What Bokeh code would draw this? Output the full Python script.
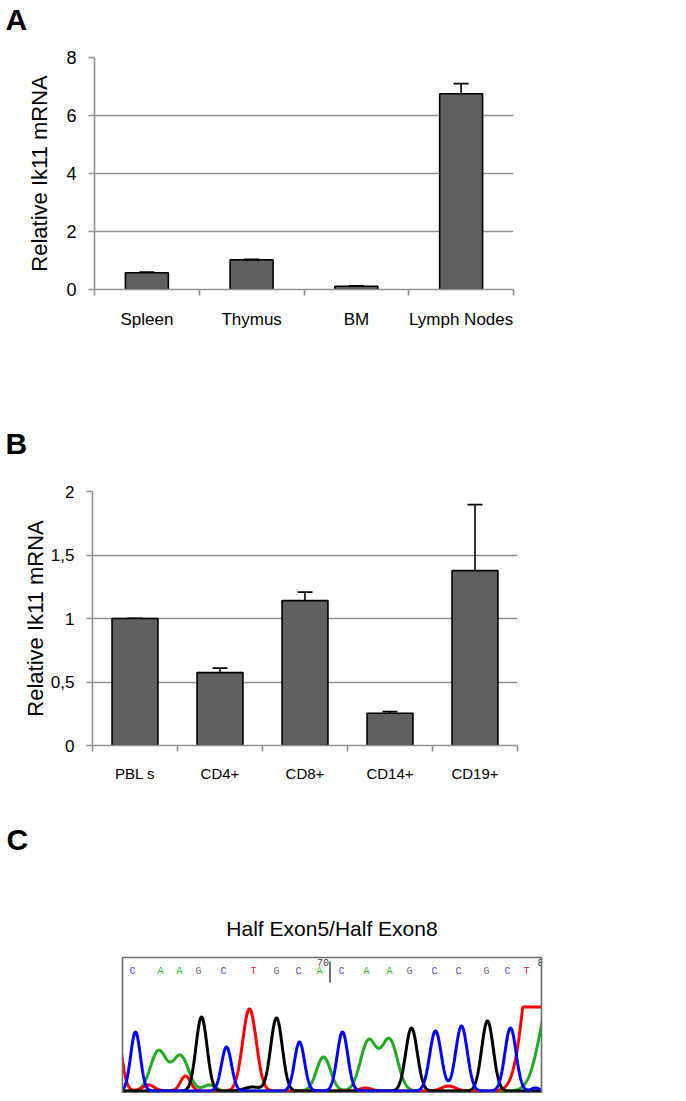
import numpy as np
from bokeh.plotting import figure
from bokeh.layouts import column
from bokeh.models import Range1d, FixedTicker, Whisker, TeeHead, ColumnDataSource
from bokeh.embed import file_html
from bokeh.resources import INLINE
from bokeh.core.properties import value

# ---------------- data ----------------
# Panel A
a_categories = ["Spleen", "Thymus", "BM", "Lymph Nodes"]
a_values = [0.58, 1.02, 0.11, 6.75]
a_errors = [0.02, 0.02, 0.01, 0.35]
a_yticks = [0, 2, 4, 6, 8]
a_ytick_labels = ["0", "2", "4", "6", "8"]

# Panel B
b_categories = ["PBL s", "CD4+", "CD8+", "CD14+", "CD19+"]
b_values = [1.0, 0.574, 1.141, 0.254, 1.377]
b_errors = [0.0, 0.036, 0.066, 0.012, 0.52]
b_yticks = [0, 0.5, 1, 1.5, 2]
b_ytick_labels = ["0", "0,5", "1", "1,5", "2"]

y_title = "Relative Ik11 mRNA"
panel_letters = ["A", "B", "C"]

# Panel C (sequencing chromatogram)
c_title = "Half Exon5/Half Exon8"
c_bases = ["C", "A", "A", "G", "C", "T", "G", "C", "A",
           "C", "A", "A", "G", "C", "C", "G", "C", "T"]
c_base_pos = [10, 38, 57, 76, 101, 131, 154, 176, 197,
              219, 244, 267, 287, 312, 336, 364, 385, 404]
c_marker_labels = ["70", "80"]
c_marker_pos = [200.5, 421]
c_junction_pos = 207.5
c_scan_range = (0, 419)

# peaks per channel: scan position, height, width
blue_pos = [13, 104, 177, 220, 313, 339, 388, 413]
blue_h = [59, 44, 49, 59, 60, 65, 63, 3]
blue_w = [4.8, 5.0, 5.0, 5.3, 5.8, 5.8, 5.6, 4.0]

green_pos = [36, 58, 87, 201, 246, 267, 430]
green_h = [40, 35, 6, 34, 50, 51, 100]
green_w = [8.0, 8.0, 6.0, 7.0, 8.0, 8.0, 12.0]

red_pos = [-8, 26, 63, 127, 243, 326, 416]
red_h = [75, 6, 15, 82, 3, 5, 200]
red_w = [6.0, 6.0, 5.0, 6.8, 6.0, 7.0, 12.0]

black_pos = [79, 130, 154, 289, 365]
black_h = [74, 4, 73, 63, 70]
black_w = [5.5, 8.0, 5.8, 5.8, 5.8]

signal_max = 84

# ---------------- style ----------------
FONT = "Liberation Sans"
GRID = "#8f8f8f"
BAR_FILL = "#606060"
base_colors = {"C": "#4b4bff", "A": "#2fb82f", "G": "#707070", "T": "#e52222"}
W = 680


class Frame:
    def __init__(self, left, top, w, h, xr, yr):
        self.left, self.top, self.w, self.h = left, top, w, h
        self.x0, self.x1 = xr
        self.y0, self.y1 = yr

    def dx(self, px):
        return self.x0 + (px - self.left) / self.w * (self.x1 - self.x0)

    def dy(self, py):
        return self.y1 - (py - self.top) / self.h * (self.y1 - self.y0)


def blank_fig(top, h, xr, yr):
    fr = Frame(0, top, W, h, xr, yr)
    p = figure(width=W, height=h, output_backend="svg", toolbar_location=None,
               x_range=Range1d(*xr), y_range=Range1d(*yr),
               x_axis_type=None, y_axis_type=None, min_border=0,
               min_border_left=0, min_border_right=0, min_border_top=0,
               min_border_bottom=0, frame_align=False)
    p.xgrid.grid_line_color = None
    p.ygrid.grid_line_color = None
    p.outline_line_color = None
    p.background_fill_color = "white"
    p.border_fill_color = "white"
    return p, fr


def letter_fig(top, h, txt, px, py_mid):
    p, fr = blank_fig(top, h, (0, W), (0, h))
    p.text(x=[fr.dx(px)], y=[fr.dy(py_mid)], text=[txt], text_font=value(FONT),
           text_font_style="bold", text_font_size="30px", text_color="black",
           text_align="left", text_baseline="middle")
    return p


def bar_panel(fig_top, fig_h, fr, cats, vals, errs, yticks, ylabels,
              bar_w, tick_font, xlab_font, xlab_standoff, ylab_standoff, tick_standoff):
    n = len(cats)
    p = figure(width=W, height=fig_h, output_backend="svg", toolbar_location=None,
               x_range=Range1d(fr.x0, fr.x1), y_range=Range1d(fr.y0, fr.y1),
               min_border_left=fr.left, min_border_top=fr.top - fig_top,
               min_border_right=W - (fr.left + fr.w),
               min_border_bottom=fig_top + fig_h - (fr.top + fr.h),
               frame_align=False)
    p.outline_line_color = None
    p.background_fill_color = "white"
    p.border_fill_color = "white"
    xs = [i + 0.5 for i in range(n)]
    p.xgrid.grid_line_color = None
    p.ygrid.ticker = FixedTicker(ticks=yticks)
    p.ygrid.grid_line_color = GRID
    p.ygrid.grid_line_width = 1.6

    src = ColumnDataSource(dict(x=xs, top=vals, lower=vals,
                                upper=[v + e for v, e in zip(vals, errs)]))
    p.vbar(x="x", top="top", bottom=0, width=bar_w, source=src,
           fill_color=BAR_FILL, line_color="black", line_width=1.6)
    p.add_layout(Whisker(source=src, base="x", lower="lower", upper="upper",
                         dimension="height", line_color="black", line_width=1.6,
                         upper_head=TeeHead(size=15, line_color="black", line_width=1.8),
                         lower_head=None))

    xa = p.xaxis[0]
    xa.ticker = FixedTicker(ticks=xs, minor_ticks=list(range(n + 1)))
    xa.major_label_overrides = {x: c for x, c in zip(xs, cats)}
    xa.major_tick_line_color = None
    xa.major_tick_out = 0
    xa.major_tick_in = 0
    xa.minor_tick_out = 6
    xa.minor_tick_in = 0
    xa.minor_tick_line_color = GRID
    xa.minor_tick_line_width = 1.6
    xa.axis_line_color = GRID
    xa.axis_line_width = 1.6
    xa.major_label_text_font = FONT
    xa.major_label_text_font_size = xlab_font
    xa.major_label_text_color = "black"
    xa.major_label_standoff = xlab_standoff

    ya = p.yaxis[0]
    ya.ticker = FixedTicker(ticks=yticks, minor_ticks=[])
    ya.major_label_overrides = {t: l for t, l in zip(yticks, ylabels)}
    ya.major_tick_out = 6
    ya.major_tick_in = 0
    ya.major_tick_line_color = GRID
    ya.major_tick_line_width = 1.6
    ya.axis_line_color = GRID
    ya.axis_line_width = 1.6
    ya.major_label_text_font = FONT
    ya.major_label_text_font_size = tick_font
    ya.major_label_text_color = "black"
    ya.major_label_standoff = tick_standoff
    ya.axis_label = y_title
    ya.axis_label_text_font = FONT
    ya.axis_label_text_font_size = "22px"
    ya.axis_label_text_font_style = "normal"
    ya.axis_label_text_color = "black"
    ya.axis_label_standoff = ylab_standoff
    return p


# ---------------- panel A ----------------
lA = letter_fig(0, 40, panel_letters[0], 5, 19)
frA = Frame(94, 57, 419, 232, (0, len(a_categories)), (a_yticks[0], a_yticks[-1]))
pA = bar_panel(40, 328, frA, a_categories, a_values, a_errors, a_yticks, a_ytick_labels,
               0.41, "18px", "17px", 14, 11, 12)

# ---------------- panel B ----------------
lB = letter_fig(368, 94, panel_letters[1], 5, 443)
frB = Frame(92, 491, 425, 254, (0, len(b_categories)), (b_yticks[0], b_yticks[-1]))
pB = bar_panel(462, 338, frB, b_categories, b_values, b_errors, b_yticks, b_ytick_labels,
               0.54, "17px", "15px", 13, 0, 12)

# ---------------- panel C ----------------
# whole figure is the frame; one scan unit = one pixel, baseline just above box bottom
pC, frC = blank_fig(800, 293, (-122, W - 122), (-2.5, 290.5))

scan = np.linspace(-30, 450, 2000)


def trace(pos, h, w):
    s = np.zeros_like(scan)
    for c, hh, ww in zip(pos, h, w):
        s += hh * np.exp(-((scan - c) ** 2) / (2 * ww ** 2))
    return np.minimum(s, signal_max)


for pos, h, w, col in [(green_pos, green_h, green_w, "#1faa1f"),
                       (red_pos, red_h, red_w, "#ff0000"),
                       (black_pos, black_h, black_w, "#000000"),
                       (blue_pos, blue_h, blue_w, "#0000ff")]:
    pC.line(scan, trace(pos, h, w), line_color=col, line_width=3)

base_src = ColumnDataSource(dict(x=c_base_pos, y=[frC.dy(971)] * len(c_bases),
                                 t=c_bases, c=[base_colors[b] for b in c_bases]))
pC.text(x="x", y="y", text="t", text_color="c", source=base_src,
        text_font=value("Liberation Mono"), text_font_size="10px",
        text_align="center", text_baseline="middle")
pC.text(x=c_marker_pos, y=[frC.dy(962)] * len(c_marker_labels), text=c_marker_labels,
        text_color="#333333", text_font=value("Liberation Mono"), text_font_size="10px",
        text_align="center", text_baseline="middle")
pC.segment(x0=[c_junction_pos], y0=[frC.dy(961)], x1=[c_junction_pos], y1=[frC.dy(982)],
           line_color="#444444", line_width=1.5)

box_bottom, box_top = frC.dy(1092), frC.dy(957)
lo, hi = c_scan_range
# mask everything drawn outside the chromatogram window
pC.quad(left=[frC.x0, hi], right=[lo, frC.x1], bottom=[frC.y0] * 2, top=[box_top + 8] * 2,
        fill_color="white", line_color=None)
pC.quad(left=[lo], right=[hi], bottom=[box_bottom], top=[box_top],
        fill_color=None, line_color="#6a6a6a", line_width=1.6)

pC.text(x=[frC.dx(331.5)], y=[frC.dy(928)], text=[c_title], text_font=value(FONT),
        text_font_size="21px", text_align="center", text_baseline="middle",
        text_color="black")
pC.text(x=[frC.dx(6)], y=[frC.dy(839)], text=[panel_letters[2]], text_font=value(FONT),
        text_font_style="bold", text_font_size="30px", text_align="left",
        text_baseline="middle", text_color="black")

layout = column(lA, pA, lB, pB, pC, spacing=0)
open("out.html", "w").write(file_html(layout, INLINE))
